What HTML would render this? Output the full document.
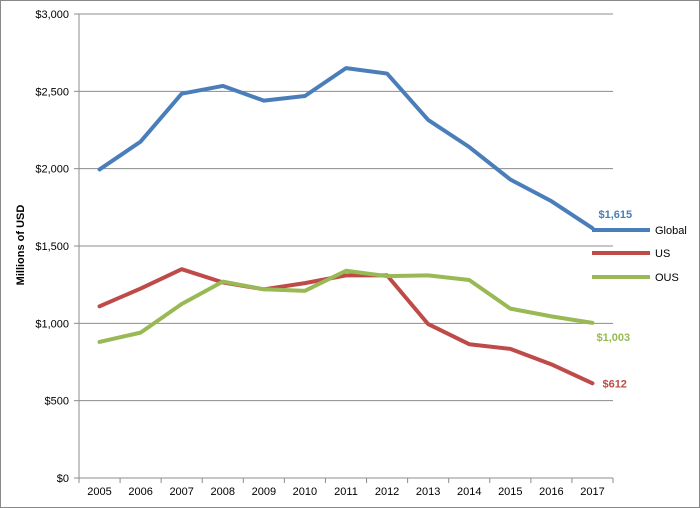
<!DOCTYPE html>
<html><head><meta charset="utf-8"><style>
body{margin:0;background:#fff}
svg{display:block;font-family:"Liberation Sans",sans-serif}
</style></head><body>
<svg id="c" width="700" height="508">
<rect x="0.5" y="0.5" width="699" height="507" fill="#fff" stroke="#888"/>
<g id="grid"></g><g id="axes"></g><g id="series"></g>
<text transform="translate(24,245) rotate(-90)" text-anchor="middle" font-size="11" font-weight="bold">Millions of USD</text>
<g>
<line x1="592" y1="230" x2="650" y2="230" stroke="#4a7ebb" stroke-width="4"/>
<text x="655" y="234" font-size="11">Global</text>
<line x1="592" y1="253" x2="650" y2="253" stroke="#be4b48" stroke-width="4"/>
<text x="655" y="257" font-size="11">US</text>
<line x1="592" y1="277" x2="650" y2="277" stroke="#98b954" stroke-width="4"/>
<text x="655" y="281" font-size="11">OUS</text>
</g>
</svg>
<script>
const categories=["2005","2006","2007","2008","2009","2010","2011","2012","2013","2014","2015","2016","2017"];
const globalVals=[1995,2175,2485,2535,2440,2470,2650,2615,2315,2140,1930,1790,1615];
const usVals=[1110,1225,1350,1265,1220,1260,1310,1310,995,865,835,735,612];
const ousVals=[880,940,1125,1270,1220,1210,1340,1305,1310,1280,1095,1045,1003];
const yTicks=[0,500,1000,1500,2000,2500,3000];
const yTickLabels=["$0","$500","$1,000","$1,500","$2,000","$2,500","$3,000"];
const NS="http://www.w3.org/2000/svg";
const L=79,R=613,T=14,B=478,yMax=3000;
const step=(R-L)/categories.length;
const x=i=>L+step*(i+0.5);
const y=v=>B-(v/yMax)*(B-T);
function mk(tag,attrs,parent,txt){const e=document.createElementNS(NS,tag);for(const k in attrs)e.setAttribute(k,attrs[k]);if(txt!==undefined)e.textContent=txt;parent.appendChild(e);return e;}
const grid=document.getElementById('grid'),axes=document.getElementById('axes'),ser=document.getElementById('series');
yTicks.forEach((t,i)=>{
 if(t>0){const g=mk('line',{x1:L,x2:R,y1:y(t),y2:y(t),stroke:'#8c8c8c','stroke-width':1},grid);
 
 }
 const tk=mk('line',{x1:L-5,x2:L,y1:y(t),y2:y(t),stroke:'#8c8c8c'},axes);
 
 
 const lb=mk('text',{x:L-10,y:y(t)+4,'text-anchor':'end','font-size':11},axes,yTickLabels[i]);
 
 
});
const ya=mk('line',{x1:L,x2:L,y1:T,y2:B,stroke:'#8c8c8c'},axes);


const xa=mk('line',{x1:L,x2:R,y1:B,y2:B,stroke:'#8c8c8c'},axes);


for(let i=0;i<=categories.length;i++){
 const tk=mk('line',{x1:L+step*i,x2:L+step*i,y1:B,y2:B+5,stroke:'#8c8c8c'},axes);
 
 
}
categories.forEach((c,i)=>{
 const lb=mk('text',{x:x(i),y:B+17,'text-anchor':'middle','font-size':11},axes,c);
 
 
});
function line(vals,color,name,label,dx,dy){
 const p=mk('polyline',{points:vals.map((v,i)=>x(i)+','+y(v)).join(' '),fill:'none',stroke:color,'stroke-width':4,'stroke-linejoin':'round','stroke-linecap':'round'},ser);
 
 
 const n=vals.length-1;
 const t=mk('text',{x:x(n)+dx,y:y(vals[n])+dy,'font-size':11,'font-weight':'bold',fill:color},ser,'$'+vals[n].toLocaleString('en-US'));
 
 
}
line(globalVals,'#4a7ebb','global','',6,-10);
line(usVals,'#be4b48','us','',10,4);
line(ousVals,'#98b954','ous','',4,18);
</script>
</body></html>
